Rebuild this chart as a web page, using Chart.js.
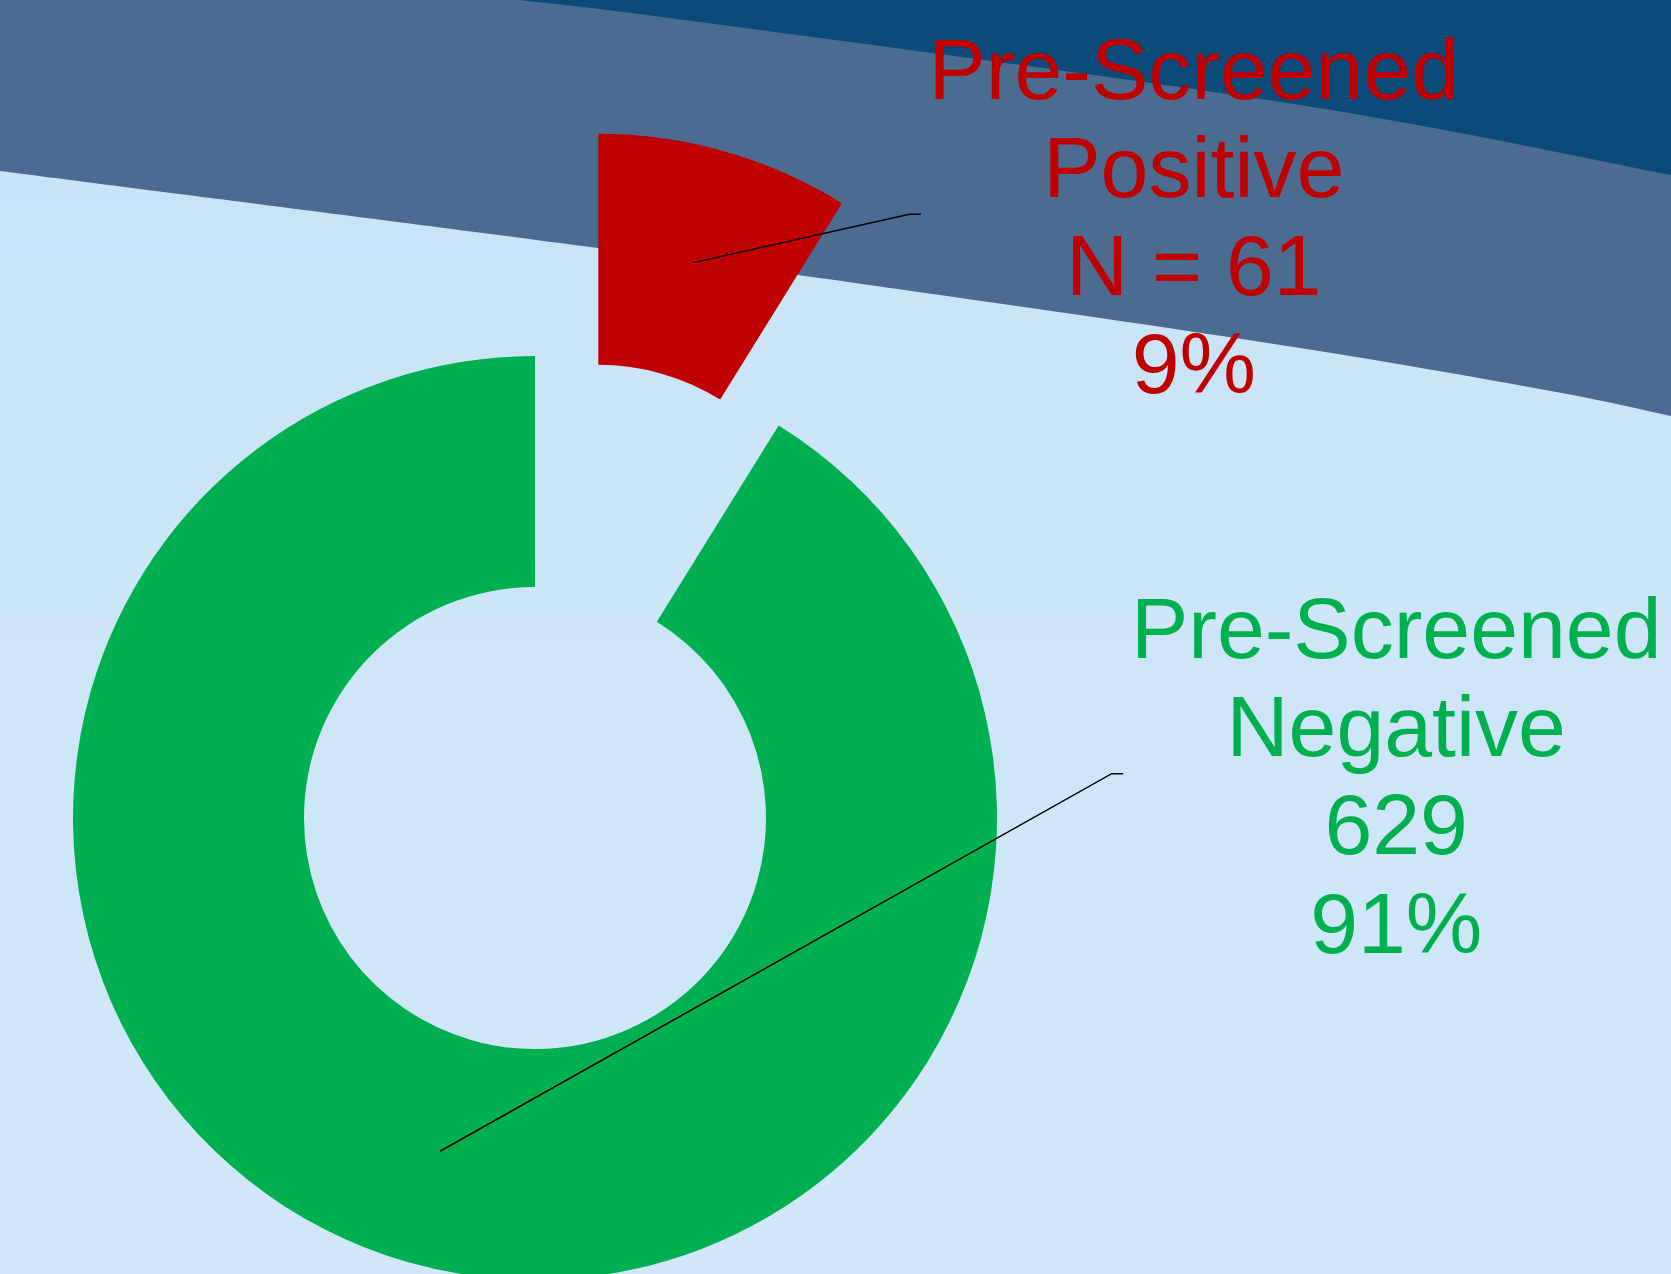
<!DOCTYPE html>
<html>
<head>
<meta charset="utf-8">
<script src="https://cdn.jsdelivr.net/npm/chart.js@4.4.1/dist/chart.umd.min.js"></script>
<style>
html,body{margin:0;padding:0;overflow:hidden;background:#cfe5f7;}
#wrap{width:1671px;height:1274px;position:relative;}
canvas{display:block;}
</style>
</head>
<body>
<div id="wrap"><canvas id="c" width="1671" height="1274"></canvas></div>
<script>
// ---- data ----
const categories = ['Pre-Screened Positive', 'Pre-Screened Negative'];
const labelLines = [['Pre-Screened', 'Positive'], ['Pre-Screened', 'Negative']];
const counts = [61, 629];
const valuePrefixes = ['N = ', ''];
const sliceColors = ['#C00000', '#00B050'];

// ---- background decoration (curved bands) ----
function smoothPath(ctx, pts, moveFirst) {
  if (moveFirst) ctx.moveTo(pts[0][0], pts[0][1]); else ctx.lineTo(pts[0][0], pts[0][1]);
  for (let i = 0; i < pts.length - 1; i++) {
    const p0 = pts[Math.max(0, i - 1)], p1 = pts[i], p2 = pts[i + 1], p3 = pts[Math.min(pts.length - 1, i + 2)];
    const c1x = p1[0] + (p2[0] - p0[0]) / 6, c1y = p1[1] + (p2[1] - p0[1]) / 6;
    const c2x = p2[0] - (p3[0] - p1[0]) / 6, c2y = p2[1] - (p3[1] - p1[1]) / 6;
    ctx.bezierCurveTo(c1x, c1y, c2x, c2y, p2[0], p2[1]);
  }
}
const backgroundPlugin = {
  id: 'bgBands',
  beforeDraw(chart) {
    const ctx = chart.ctx, W = chart.width, H = chart.height;
    ctx.save();
    const g = ctx.createLinearGradient(0, 0, 0, H);
    g.addColorStop(0, '#C8E3F6');
    g.addColorStop(1, '#D1E7F8');
    ctx.fillStyle = g;
    ctx.fillRect(0, 0, W, H);
    // medium band
    const lower = [[0, 171], [598, 248], [940, 295], [1300, 348], [1556, 392], [1671, 416]];
    ctx.beginPath();
    ctx.moveTo(0, 0);
    ctx.lineTo(W, 0);
    ctx.lineTo(W, 416);
    smoothPath(ctx, lower.slice().reverse(), false);
    ctx.closePath();
    ctx.fillStyle = '#4C6B90';
    ctx.fill();
    // dark band
    const upper = [[519, 0], [700, 22], [1300, 105], [1671, 175]];
    ctx.beginPath();
    smoothPath(ctx, upper, true);
    ctx.lineTo(W, 0);
    ctx.closePath();
    ctx.fillStyle = '#0C4A79';
    ctx.fill();
    ctx.restore();
  }
};

// ---- exploded slice ----
const explodePlugin = {
  id: 'explode',
  afterDatasetUpdate(chart, args, opts) {
    const meta = chart.getDatasetMeta(args.index);
    (opts.distances || []).forEach((d, i) => {
      const arc = meta.data[i];
      if (!arc || !d) return;
      const a = (arc.startAngle + arc.endAngle) / 2;
      arc.x += Math.cos(a) * d;
      arc.y += Math.sin(a) * d;
    });
  }
};

// ---- callout labels ----
const calloutPlugin = {
  id: 'callouts',
  afterDatasetsDraw(chart, args, opts) {
    const ctx = chart.ctx;
    const meta = chart.getDatasetMeta(0);
    const total = counts.reduce((a, b) => a + b, 0);
    meta.data.forEach((arc, i) => {
      const p = arc.getCenterPoint();
      const e = opts.elbows[i];
      ctx.save();
      ctx.strokeStyle = '#000000';
      ctx.lineWidth = 1.5;
      ctx.beginPath();
      ctx.moveTo(p.x, p.y);
      ctx.lineTo(e.x, e.y);
      ctx.lineTo(e.x + opts.stub, e.y);
      ctx.stroke();
      const lines = [...labelLines[i], valuePrefixes[i] + counts[i], Math.round(counts[i] / total * 100) + '%'];
      ctx.fillStyle = sliceColors[i];
      ctx.font = opts.fontSize + 'px "Liberation Sans", Arial, Helvetica, sans-serif';
      ctx.textAlign = 'center';
      ctx.textBaseline = 'alphabetic';
      const cx = e.x + opts.stub + opts.textGap;
      const first = e.y - (lines.length - 1) / 2 * opts.lineHeight + opts.baselineShift;
      lines.forEach((t, k) => ctx.fillText(t, cx, first + k * opts.lineHeight));
      ctx.restore();
    });
  }
};

new Chart(document.getElementById('c'), {
  type: 'doughnut',
  data: {
    labels: categories,
    datasets: [{
      data: counts,
      backgroundColor: sliceColors,
      borderWidth: 0,
      hoverOffset: 0
    }]
  },
  options: {
    responsive: false,
    animation: false,
    events: [],
    radius: 462,
    cutout: '50%',
    rotation: 0,
    layout: { padding: { left: 0, right: 601, top: 362, bottom: 0 } },
    plugins: {
      legend: { display: false },
      tooltip: { enabled: false },
      explode: { distances: [231, 0] },
      callouts: {
        elbows: [{ x: 909.3, y: 214.3 }, { x: 1111.7, y: 773.7 }],
        stub: 11.5,
        textGap: 273,
        fontSize: 86,
        lineHeight: 98.2,
        baselineShift: 31.6
      }
    }
  },
  plugins: [backgroundPlugin, explodePlugin, calloutPlugin]
});
</script>
</body>
</html>
